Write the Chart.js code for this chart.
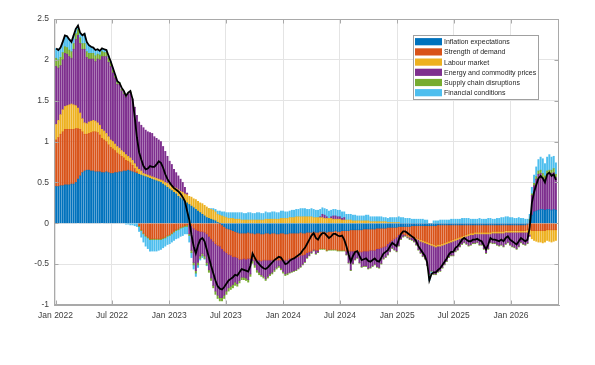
<!DOCTYPE html>
<html>
<head>
<meta charset="utf-8">
<script src="https://cdn.jsdelivr.net/npm/chart.js@4.4.1/dist/chart.umd.min.js"></script>
<style>html,body{margin:0;background:#fff}canvas{display:block}</style>
</head>
<body>
<canvas id="chart" width="595" height="365"></canvas>
<script>
'use strict';

// ── DATA ────────────────────────────────────────────────────────────────────
// weekly observations, first week starting 2022-01-03
const FIRST_WEEK = '2022-01-03';
const TICK_DATES = ['2022-01-01','2022-07-01','2023-01-01','2023-07-01','2024-01-01','2024-07-01','2025-01-01','2025-07-01','2026-01-01'];
const TICK_LABELS = ['Jan 2022','Jul 2022','Jan 2023','Jul 2023','Jan 2024','Jul 2024','Jan 2025','Jul 2025','Jan 2026'];
const Y_TICKS = [-1,-0.5,0,0.5,1,1.5,2,2.5];
const NAMES = ['Inflation expectations','Strength of demand','Labour market','Energy and commodity prices','Supply chain disruptions','Financial conditions'];

const inflExp = [
  0.45,0.45,0.46,0.46,0.47,0.47,0.47,0.48,0.48,0.50,
  0.54,0.58,0.62,0.64,0.65,0.65,0.64,0.64,0.63,0.63,
  0.63,0.62,0.62,0.63,0.62,0.61,0.61,0.62,0.62,0.63,
  0.63,0.64,0.64,0.65,0.64,0.63,0.62,0.61,0.60,0.59,
  0.58,0.57,0.56,0.55,0.54,0.53,0.52,0.51,0.50,0.48,
  0.46,0.44,0.42,0.40,0.38,0.36,0.33,0.31,0.29,0.27,
  0.25,0.23,0.21,0.19,0.17,0.15,0.13,0.11,0.09,0.07,
  0.06,0.05,0.04,0.03,0.01,0.00,-0.02,-0.04,-0.06,-0.07,
  -0.08,-0.09,-0.10,-0.11,-0.12,-0.12,-0.12,-0.12,-0.11,-0.12,
  -0.12,-0.13,-0.12,-0.12,-0.13,-0.13,-0.12,-0.12,-0.13,-0.12,
  -0.12,-0.13,-0.13,-0.12,-0.12,-0.13,-0.13,-0.12,-0.12,-0.12,
  -0.12,-0.12,-0.11,-0.12,-0.12,-0.11,-0.11,-0.11,-0.10,-0.11,
  -0.11,-0.10,-0.10,-0.10,-0.11,-0.10,-0.10,-0.10,-0.09,-0.10,
  -0.10,-0.09,-0.09,-0.09,-0.09,-0.08,-0.08,-0.08,-0.08,-0.08,
  -0.08,-0.07,-0.07,-0.07,-0.07,-0.07,-0.07,-0.06,-0.06,-0.06,
  -0.06,-0.06,-0.05,-0.05,-0.05,-0.05,-0.05,-0.04,-0.04,-0.04,
  -0.04,-0.04,-0.04,-0.03,-0.03,-0.03,-0.03,-0.03,-0.03,-0.03,
  -0.03,-0.03,-0.03,-0.03,-0.03,-0.02,-0.02,-0.02,-0.02,-0.02,
  -0.02,-0.02,-0.02,-0.02,-0.02,-0.02,-0.02,-0.02,-0.02,-0.02,
  -0.02,-0.02,-0.02,-0.02,-0.02,-0.02,-0.02,-0.02,-0.02,-0.02,
  -0.02,-0.02,-0.02,-0.02,-0.02,-0.02,-0.02,-0.02,-0.02,-0.02,
  -0.02,-0.02,-0.02,-0.02,-0.02,-0.02,-0.01,0.04,0.10,0.14,
  0.15,0.16,0.17,0.17,0.16,0.17,0.17,0.16,0.17,0.16
];
const demand = [
  0.57,0.60,0.63,0.66,0.68,0.68,0.68,0.67,0.67,0.66,
  0.62,0.57,0.50,0.45,0.44,0.45,0.47,0.48,0.49,0.48,
  0.45,0.42,0.40,0.37,0.34,0.32,0.30,0.27,0.24,0.21,
  0.19,0.16,0.13,0.11,0.10,0.08,0.05,0.02,-0.03,-0.08,
  -0.12,-0.15,-0.17,-0.19,-0.19,-0.19,-0.19,-0.19,-0.19,-0.18,
  -0.17,-0.15,-0.14,-0.12,-0.10,-0.08,-0.07,-0.05,-0.04,-0.03,
  -0.02,-0.01,-0.03,-0.06,-0.08,-0.09,-0.10,-0.10,-0.11,-0.13,
  -0.16,-0.19,-0.22,-0.25,-0.27,-0.28,-0.29,-0.30,-0.30,-0.31,
  -0.31,-0.32,-0.31,-0.31,-0.32,-0.32,-0.31,-0.32,-0.32,-0.31,
  -0.31,-0.32,-0.33,-0.33,-0.33,-0.32,-0.33,-0.33,-0.32,-0.33,
  -0.33,-0.32,-0.32,-0.33,-0.33,-0.32,-0.32,-0.31,-0.31,-0.30,
  -0.30,-0.29,-0.28,-0.27,-0.26,-0.25,-0.24,-0.23,-0.22,-0.22,
  -0.22,-0.21,-0.21,-0.21,-0.22,-0.22,-0.22,-0.22,-0.23,-0.23,
  -0.23,-0.24,-0.24,-0.25,-0.25,-0.26,-0.26,-0.26,-0.27,-0.27,
  -0.27,-0.27,-0.27,-0.27,-0.26,-0.26,-0.26,-0.25,-0.25,-0.24,
  -0.23,-0.22,-0.20,-0.18,-0.16,-0.14,-0.12,-0.10,-0.09,-0.09,
  -0.10,-0.11,-0.12,-0.13,-0.14,-0.15,-0.16,-0.17,-0.18,-0.19,
  -0.20,-0.21,-0.22,-0.23,-0.24,-0.24,-0.24,-0.23,-0.22,-0.21,
  -0.20,-0.19,-0.18,-0.17,-0.16,-0.15,-0.14,-0.13,-0.12,-0.11,
  -0.10,-0.10,-0.09,-0.09,-0.09,-0.09,-0.09,-0.09,-0.09,-0.09,
  -0.08,-0.08,-0.08,-0.08,-0.08,-0.08,-0.07,-0.07,-0.07,-0.07,
  -0.07,-0.07,-0.07,-0.07,-0.07,-0.07,-0.07,-0.08,-0.09,-0.09,
  -0.09,-0.09,-0.09,-0.09,-0.09,-0.08,-0.08,-0.08,-0.08,-0.08
];
const labour = [
  0.19,0.21,0.24,0.27,0.28,0.29,0.30,0.31,0.30,0.28,
  0.25,0.20,0.16,0.14,0.13,0.14,0.14,0.14,0.13,0.12,
  0.12,0.11,0.11,0.10,0.10,0.09,0.09,0.08,0.08,0.08,
  0.07,0.07,0.07,0.06,0.06,0.06,0.06,0.06,0.06,0.05,
  0.03,0.03,0.03,0.03,0.03,0.03,0.03,0.03,0.03,0.04,
  0.04,0.05,0.05,0.06,0.06,0.07,0.08,0.08,0.09,0.09,
  0.10,0.10,0.11,0.11,0.12,0.12,0.12,0.13,0.13,0.13,
  0.12,0.12,0.12,0.11,0.10,0.10,0.09,0.08,0.07,0.06,
  0.06,0.06,0.05,0.05,0.05,0.04,0.04,0.04,0.04,0.04,
  0.04,0.04,0.04,0.04,0.04,0.04,0.05,0.05,0.05,0.05,
  0.05,0.05,0.05,0.06,0.06,0.06,0.06,0.07,0.07,0.07,
  0.08,0.08,0.08,0.08,0.08,0.08,0.08,0.08,0.07,0.07,
  0.07,0.07,0.07,0.06,0.06,0.06,0.06,0.05,0.05,0.05,
  0.05,0.04,0.04,0.04,0.04,0.04,0.03,0.03,0.03,0.03,
  0.03,0.03,0.03,0.03,0.02,0.02,0.02,0.02,0.02,0.02,
  0.02,0.02,0.01,0.01,0.01,0.01,0.01,0.01,0.00,0.00,
  0.00,-0.01,-0.01,-0.01,-0.01,-0.01,-0.01,-0.02,-0.02,-0.02,
  -0.02,-0.02,-0.02,-0.02,-0.02,-0.02,-0.02,-0.02,-0.02,-0.02,
  -0.02,-0.02,-0.02,-0.02,-0.02,-0.02,-0.02,-0.02,-0.02,-0.02,
  -0.02,-0.02,-0.02,-0.02,-0.02,-0.02,-0.02,-0.02,-0.02,-0.02,
  -0.02,-0.02,-0.02,-0.02,-0.02,-0.02,-0.02,-0.02,-0.02,-0.02,
  -0.02,-0.02,-0.02,-0.02,-0.02,-0.02,-0.03,-0.06,-0.10,-0.12,
  -0.13,-0.14,-0.14,-0.15,-0.14,-0.13,-0.14,-0.15,-0.14,-0.13
];
const energy = [
  0.71,0.64,0.60,0.61,0.65,0.63,0.59,0.56,0.68,0.81,
  0.89,0.85,0.85,0.90,0.81,0.77,0.76,0.75,0.73,0.78,
  0.80,0.89,0.91,0.94,0.91,0.90,0.84,0.81,0.76,0.78,
  0.73,0.71,0.70,0.76,0.80,0.75,0.69,0.63,0.58,0.56,
  0.56,0.54,0.53,0.53,0.53,0.50,0.49,0.48,0.47,0.42,
  0.38,0.33,0.29,0.26,0.22,0.19,0.17,0.15,0.12,0.08,
  0.02,-0.12,-0.30,-0.42,-0.50,-0.39,-0.30,-0.27,-0.29,-0.35,
  -0.41,-0.48,-0.54,-0.58,-0.61,-0.63,-0.60,-0.54,-0.47,-0.41,
  -0.38,-0.34,-0.31,-0.32,-0.26,-0.22,-0.23,-0.23,-0.26,-0.19,
  -0.03,-0.06,-0.12,-0.15,-0.17,-0.20,-0.23,-0.20,-0.17,-0.15,
  -0.12,-0.09,-0.07,-0.10,-0.14,-0.17,-0.16,-0.17,-0.16,-0.16,
  -0.15,-0.14,-0.14,-0.11,-0.09,-0.06,-0.04,-0.02,-0.01,-0.04,
  -0.02,0.01,0.04,0.04,0.02,0.00,0.02,0.04,0.04,0.03,
  0.03,0.02,0.03,-0.04,-0.14,-0.23,-0.15,-0.10,-0.07,-0.13,
  -0.18,-0.18,-0.18,-0.21,-0.21,-0.19,-0.17,-0.22,-0.23,-0.19,
  -0.14,-0.13,-0.13,-0.11,-0.09,-0.13,-0.17,-0.13,-0.06,-0.03,
  -0.01,-0.01,-0.02,-0.03,-0.04,-0.07,-0.12,-0.14,-0.17,-0.19,
  -0.26,-0.36,-0.31,-0.34,-0.33,-0.31,-0.30,-0.27,-0.24,-0.21,
  -0.17,-0.16,-0.17,-0.13,-0.12,-0.09,-0.07,-0.06,-0.09,-0.12,
  -0.12,-0.10,-0.11,-0.10,-0.13,-0.13,-0.18,-0.23,-0.18,-0.10,
  -0.12,-0.12,-0.14,-0.15,-0.14,-0.16,-0.14,-0.12,-0.15,-0.17,
  -0.18,-0.20,-0.17,-0.12,-0.14,-0.15,-0.13,-0.02,0.24,0.32,
  0.39,0.44,0.44,0.39,0.38,0.42,0.43,0.45,0.45,0.40
];
const supply = [
  0.10,0.10,0.10,0.09,0.08,0.08,0.08,0.08,0.07,0.07,
  0.07,0.07,0.07,0.07,0.07,0.07,0.07,0.07,0.07,0.06,
  0.06,0.06,0.05,0.05,0.05,0.04,0.04,0.03,0.03,0.02,
  0.02,0.02,0.01,0.01,0.01,0.00,0.00,0.00,-0.01,-0.01,
  -0.01,-0.01,-0.01,-0.01,-0.01,-0.01,-0.01,-0.01,-0.01,-0.01,
  -0.01,-0.01,-0.01,-0.01,-0.01,-0.01,-0.01,-0.01,-0.01,-0.01,
  -0.02,-0.02,-0.03,-0.03,-0.03,-0.03,-0.03,-0.03,-0.03,-0.03,
  -0.03,-0.03,-0.03,-0.04,-0.04,-0.04,-0.04,-0.04,-0.04,-0.04,
  -0.04,-0.04,-0.04,-0.03,-0.03,-0.03,-0.03,-0.03,-0.03,-0.03,
  -0.03,-0.03,-0.03,-0.03,-0.02,-0.02,-0.02,-0.02,-0.02,-0.02,
  -0.02,-0.02,-0.02,-0.02,-0.02,-0.02,-0.02,-0.01,-0.01,-0.01,
  -0.01,-0.01,-0.01,-0.01,-0.01,-0.01,-0.01,-0.01,-0.01,-0.01,
  -0.01,-0.01,-0.01,-0.01,-0.01,-0.01,-0.01,-0.01,-0.01,-0.01,
  -0.01,-0.01,-0.01,-0.01,-0.01,-0.01,-0.01,-0.01,-0.01,-0.01,
  -0.01,-0.01,-0.01,-0.01,-0.01,-0.01,-0.01,-0.01,-0.01,-0.01,
  -0.01,-0.01,-0.01,-0.01,-0.01,-0.01,-0.01,-0.01,-0.01,-0.01,
  -0.01,-0.01,-0.01,-0.01,-0.01,-0.01,-0.01,-0.01,-0.01,-0.01,
  -0.01,-0.01,-0.01,-0.01,-0.01,-0.01,-0.01,-0.01,-0.01,-0.01,
  -0.01,-0.01,-0.01,-0.01,-0.01,-0.01,-0.01,-0.01,-0.01,-0.01,
  -0.01,-0.01,-0.01,-0.01,-0.01,-0.01,-0.01,-0.01,-0.01,-0.01,
  -0.01,-0.01,-0.01,-0.01,-0.01,-0.01,-0.01,-0.01,-0.01,-0.01,
  -0.01,-0.01,-0.01,-0.01,-0.01,-0.01,-0.01,0.01,0.02,0.03,
  0.03,0.04,0.04,0.05,0.04,0.05,0.05,0.04,0.05,0.04
];
const finance = [
  0.12,0.12,0.12,0.13,0.14,0.14,0.13,0.12,0.10,0.06,
  0.05,0.06,0.10,0.12,0.12,0.10,0.08,0.07,0.07,0.06,
  0.05,0.04,0.04,0.03,0.03,0.02,0.02,0.01,0.01,0.00,
  0.00,0.00,-0.01,-0.01,-0.02,-0.02,-0.03,-0.04,-0.06,-0.08,
  -0.10,-0.12,-0.13,-0.14,-0.14,-0.14,-0.14,-0.13,-0.12,-0.11,
  -0.10,-0.10,-0.10,-0.10,-0.10,-0.10,-0.10,-0.10,-0.10,-0.09,
  -0.09,-0.08,-0.06,-0.05,-0.04,-0.03,-0.02,-0.02,-0.01,-0.01,
  0.00,0.01,0.02,0.03,0.04,0.05,0.05,0.06,0.06,0.07,
  0.07,0.07,0.08,0.08,0.08,0.09,0.08,0.08,0.09,0.09,
  0.08,0.08,0.09,0.09,0.08,0.08,0.09,0.08,0.08,0.09,
  0.09,0.08,0.08,0.09,0.09,0.08,0.08,0.08,0.09,0.09,
  0.09,0.09,0.10,0.10,0.10,0.09,0.09,0.10,0.10,0.09,
  0.09,0.09,0.08,0.08,0.09,0.09,0.08,0.08,0.08,0.08,
  0.08,0.08,0.07,0.07,0.07,0.07,0.07,0.07,0.06,0.06,
  0.06,0.06,0.07,0.07,0.06,0.06,0.06,0.06,0.06,0.06,
  0.05,0.05,0.05,0.06,0.06,0.06,0.06,0.07,0.07,0.07,
  0.06,0.06,0.06,0.05,0.05,0.05,0.05,0.05,0.05,0.04,
  0.04,-0.07,-0.03,0.03,0.03,0.03,0.04,0.04,0.04,0.04,
  0.04,0.05,0.05,0.05,0.05,0.05,0.06,0.06,0.06,0.06,
  0.05,0.05,0.05,0.05,0.06,0.05,0.05,0.05,0.06,0.06,
  0.05,0.05,0.06,0.06,0.07,0.07,0.08,0.08,0.07,0.07,
  0.06,0.06,0.07,0.06,0.06,0.05,0.05,0.06,0.08,0.10,
  0.12,0.14,0.16,0.18,0.15,0.17,0.19,0.16,0.15,0.14
];
const total = [
  2.14,2.12,2.15,2.22,2.30,2.29,2.25,2.22,2.30,2.38,
  2.42,2.33,2.30,2.32,2.22,2.18,2.16,2.15,2.12,2.13,
  2.11,2.14,2.13,2.12,2.05,1.98,1.90,1.82,1.74,1.72,
  1.66,1.62,1.56,1.60,1.62,1.52,1.30,1.05,0.87,0.78,
  0.70,0.66,0.67,0.70,0.69,0.69,0.72,0.76,0.74,0.68,
  0.60,0.54,0.50,0.46,0.43,0.41,0.39,0.36,0.32,0.27,
  0.15,0.04,-0.14,-0.28,-0.37,-0.27,-0.20,-0.18,-0.22,-0.32,
  -0.42,-0.52,-0.61,-0.70,-0.77,-0.80,-0.81,-0.78,-0.74,-0.70,
  -0.68,-0.66,-0.63,-0.64,-0.60,-0.56,-0.57,-0.58,-0.59,-0.52,
  -0.37,-0.42,-0.47,-0.50,-0.53,-0.55,-0.56,-0.54,-0.51,-0.48,
  -0.45,-0.43,-0.41,-0.42,-0.46,-0.50,-0.49,-0.46,-0.44,-0.43,
  -0.41,-0.39,-0.37,-0.33,-0.30,-0.25,-0.20,-0.15,-0.12,-0.18,
  -0.20,-0.15,-0.12,-0.12,-0.15,-0.18,-0.16,-0.13,-0.13,-0.15,
  -0.16,-0.15,-0.20,-0.28,-0.38,-0.47,-0.40,-0.35,-0.34,-0.40,
  -0.45,-0.44,-0.43,-0.46,-0.47,-0.45,-0.43,-0.46,-0.47,-0.42,
  -0.37,-0.35,-0.33,-0.28,-0.24,-0.26,-0.28,-0.20,-0.13,-0.10,
  -0.10,-0.12,-0.14,-0.16,-0.18,-0.22,-0.28,-0.32,-0.36,-0.40,
  -0.48,-0.70,-0.62,-0.60,-0.60,-0.57,-0.55,-0.51,-0.47,-0.43,
  -0.38,-0.35,-0.35,-0.30,-0.28,-0.24,-0.20,-0.18,-0.20,-0.22,
  -0.22,-0.20,-0.20,-0.19,-0.21,-0.22,-0.27,-0.32,-0.26,-0.18,
  -0.20,-0.20,-0.21,-0.22,-0.20,-0.22,-0.18,-0.16,-0.20,-0.22,
  -0.24,-0.26,-0.22,-0.18,-0.20,-0.22,-0.20,-0.05,0.25,0.38,
  0.47,0.55,0.58,0.55,0.50,0.60,0.62,0.58,0.60,0.53
];

// ── STYLE ───────────────────────────────────────────────────────────────────
const FONT = "'Liberation Sans', Arial, sans-serif";
const COLORS = ['#0072BD','#D95319','#EDB120','#7E2F8E','#77AC30','#4DBEEE'];
const GRID = '#e4e4e4', AXIS = '#a9a9a9', TXT = '#404040';

const dayOf = s => (Date.parse(s) - Date.parse('2022-01-01')) / 864e5;
const weekDays = total.map((_, i) => dayOf(FIRST_WEEK) + 7 * i);
const tickDays = TICK_DATES.map(dayOf);
const series = [inflExp, demand, labour, energy, supply, finance];

// MATLAB-like box with inward ticks, plus the legend inside the axes
const framePlugin = {
  id: 'frame',
  afterDraw(chart) {
    const {ctx, chartArea: a, scales: {x, y}} = chart;
    const L = Math.round(a.left) + 0.5, R = Math.round(a.right) - 0.5;
    const T = Math.round(a.top) + 0.5, B = Math.round(a.bottom) - 0.5;
    ctx.save();
    ctx.strokeStyle = AXIS; ctx.lineWidth = 1;
    ctx.strokeRect(L, T, R - L, B - T);
    ctx.beginPath();
    tickDays.forEach(d => {
      const px = Math.round(x.getPixelForValue(d)) + 0.5;
      ctx.moveTo(px, B); ctx.lineTo(px, B - 4);
      ctx.moveTo(px, T); ctx.lineTo(px, T + 4);
    });
    Y_TICKS.forEach(v => {
      const py = Math.round(y.getPixelForValue(v)) + 0.5;
      ctx.moveTo(L, py); ctx.lineTo(L + 4, py);
      ctx.moveTo(R, py); ctx.lineTo(R - 4, py);
    });
    ctx.stroke();

    // legend
    const lx = 413.5, ly = 35.5, lw = 125, lh = 64;
    ctx.fillStyle = '#fff';
    ctx.fillRect(lx, ly, lw, lh);
    ctx.strokeStyle = '#a0a0a0';
    ctx.strokeRect(lx, ly, lw, lh);
    ctx.font = '7px ' + FONT;
    ctx.textBaseline = 'middle';
    chart.data.datasets.filter(d => d.type === 'bar').forEach((d, k) => {
      const cy = 41.7 + k * 10.2;
      ctx.fillStyle = d.backgroundColor;
      ctx.fillRect(415, cy - 3.6, 27, 7.2);
      ctx.fillStyle = '#262626';
      ctx.fillText(d.label, 444, cy + 0.5);
    });
    ctx.restore();
  }
};

const datasets = series.map((s, k) => ({
  type: 'bar', label: NAMES[k], data: s,
  backgroundColor: COLORS[k], borderWidth: 0,
  barThickness: 1.3, stack: 'factors', order: 2
}));
datasets.push({
  type: 'line', label: 'Total', data: total,
  borderColor: '#000', borderWidth: 1.8, pointRadius: 0,
  tension: 0, fill: false, stack: 'total', order: 1
});

new Chart(document.getElementById('chart'), {
  type: 'bar',
  data: {labels: weekDays, datasets},
  options: {
    responsive: false, animation: false, devicePixelRatio: 1,
    layout: {padding: {left: 0, right: 36, top: 19, bottom: 40}},
    plugins: {legend: {display: false}, tooltip: {enabled: false}},
    scales: {
      x: {
        type: 'linear', min: -5, max: 1615, offset: false, stacked: true,
        afterBuildTicks: s => { s.ticks = tickDays.map(v => ({value: v})); },
        afterFit: s => { s.height = 20; },
        ticks: {autoSkip: false, maxRotation: 0, padding: 6, color: TXT,
          font: {family: FONT, size: 8.5}, callback: (v, i) => TICK_LABELS[i]},
        grid: {color: GRID, drawTicks: false, offset: false},
        border: {color: AXIS}
      },
      y: {
        min: -1, max: 2.5, stacked: true,
        afterBuildTicks: s => { s.ticks = Y_TICKS.map(v => ({value: v})); },
        afterFit: s => { s.width = 54; },
        ticks: {padding: 5, color: TXT, font: {family: FONT, size: 8.5}, callback: v => String(v)},
        grid: {color: GRID, drawTicks: false},
        border: {color: AXIS}
      }
    }
  },
  plugins: [framePlugin]
});
</script>
</body>
</html>
